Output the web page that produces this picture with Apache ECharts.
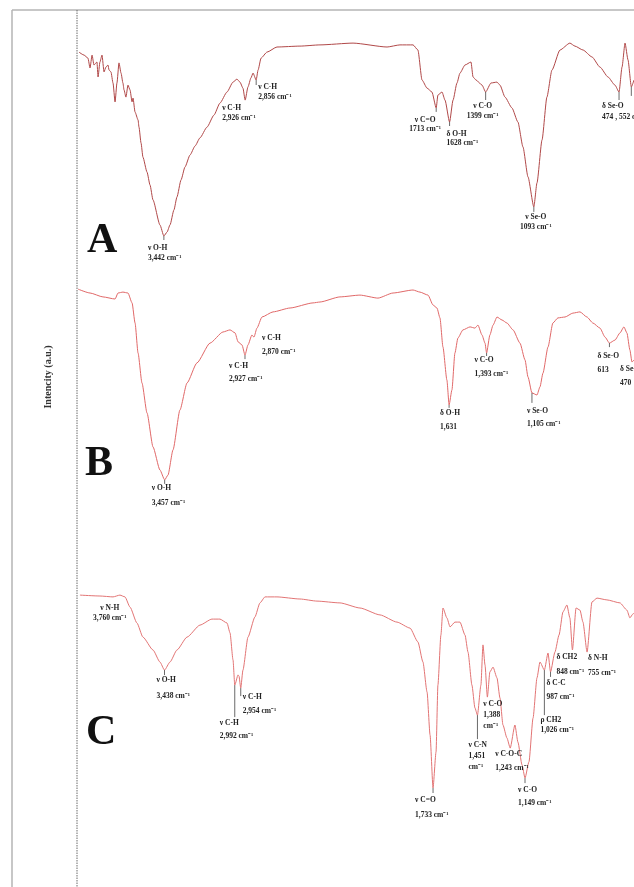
<!DOCTYPE html>
<html><head><meta charset="utf-8">
<script src="https://cdn.jsdelivr.net/npm/echarts@6/dist/echarts.min.js"></script>
<style>html,body{margin:0;padding:0;background:#fff}#c{width:634px;height:887px}</style>
</head><body><div id="c"></div>
<script>
// ---- Data (wavenumber in cm-1, intensity in arbitrary units) ----
const wavenumbersA = [3981,3949,3924,3911,3898,3886,3867,3860,3848,3835,3822,3810,3797,3790,3778,3765,3752,3740,3727,3714,3702,3695,3683,3670,3657,3644,3638,3625,3606,3600,3587,3575,3549,3530,3511,3467,3442,3422,3403,3378,3359,3333,3308,3276,3244,3213,3168,3124,3086,3041,3003,2978,2959,2940,2926,2908,2889,2876,2856,2844,2825,2787,2724,2578,2451,2241,2025,1943,1860,1829,1803,1771,1740,1713,1702,1676,1657,1628,1606,1581,1562,1530,1492,1479,1460,1422,1399,1365,1327,1308,1276,1232,1194,1162,1130,1093,1073,1041,1010,978,927,864,832,781,724,673,622,578,552,533,514,495,474,457];
const intensityA = [93.3,92.3,91.3,88.0,92.3,89.0,90.0,85.0,90.0,92.3,86.7,88.3,89.0,87.3,86.7,83.0,76.7,83.0,89.7,86.3,83.0,80.7,78.3,82.3,80.7,76.7,78.0,73.3,70.7,68.3,63.0,58.3,53.3,49.0,44.0,35.7,32.0,33.3,35.7,40.7,45.0,50.7,55.0,59.0,62.0,64.7,68.3,72.3,76.3,80.0,83.3,84.3,83.3,81.3,77.3,81.7,84.7,86.3,84.0,87.3,91.3,93.3,95.0,95.3,95.7,96.3,95.0,95.7,95.7,94.0,84.0,81.3,80.0,74.7,79.0,80.0,77.3,70.0,77.3,83.0,86.3,89.0,90.0,85.0,84.0,82.3,80.0,83.0,83.3,82.3,78.3,74.7,70.0,61.7,51.7,41.7,49.7,64.0,78.3,87.3,94.0,96.3,95.3,94.0,91.7,88.3,85.0,82.3,80.0,88.3,96.3,90.7,81.7,84.0];

const wavenumbersB = [3987,3911,3829,3752,3733,3702,3670,3644,3625,3606,3581,3549,3511,3467,3437,3416,3384,3340,3295,3232,3149,3067,3022,2990,2971,2946,2927,2908,2883,2870,2851,2819,2749,2641,2495,2451,2324,2197,2083,1987,1860,1816,1765,1733,1708,1689,1670,1645,1631,1613,1594,1575,1543,1498,1467,1448,1422,1403,1393,1372,1352,1327,1295,1264,1225,1181,1149,1130,1105,1073,1054,1035,1003,972,940,895,845,800,756,718,673,641,613,578,546,521,502,483,470,457];
const intensityB = [99.3,98.0,96.7,96.0,98.0,98.3,98.0,94.7,88.0,78.0,68.0,58.0,46.7,39.0,35.7,37.3,45.7,59.0,68.0,74.7,81.3,85.0,85.7,84.7,81.7,80.7,77.3,80.7,84.0,83.3,86.3,90.0,91.7,93.0,94.7,95.0,96.7,97.3,96.3,98.0,99.0,98.3,97.3,94.0,93.0,89.7,80.0,69.0,60.7,65.7,78.0,83.0,85.7,86.7,86.3,87.3,84.0,81.3,78.0,84.0,87.3,90.0,89.0,88.0,85.7,81.3,75.7,70.0,64.7,64.0,66.7,71.3,80.0,88.0,89.7,90.0,91.3,91.7,90.0,88.0,86.3,83.3,81.3,82.3,84.7,86.7,84.7,79.0,75.0,75.7];

const wavenumbersC = [3975,3848,3765,3721,3689,3657,3613,3575,3511,3467,3438,3403,3359,3295,3213,3137,3086,3041,3022,3003,2992,2971,2965,2954,2940,2908,2864,2832,2800,2724,2578,2470,2324,2197,2070,1962,1879,1829,1797,1771,1752,1733,1714,1702,1683,1670,1645,1625,1594,1562,1530,1511,1486,1467,1451,1429,1416,1403,1388,1372,1352,1327,1308,1289,1264,1243,1213,1194,1168,1149,1124,1098,1073,1054,1026,1003,987,959,933,908,883,864,848,825,800,781,755,724,692,629,546,502,483,464,457];
const intensityC = [97.3,97.0,96.7,97.3,96.7,93.3,88.0,83.3,79.0,75.0,72.3,75.0,79.0,83.3,87.3,89.3,89.3,88.0,84.7,75.7,67.3,70.7,70.3,66.3,72.3,83.3,90.0,94.7,96.7,96.7,96.0,95.3,94.7,93.0,90.7,88.3,86.3,81.7,75.0,65.0,50.7,33.0,45.0,67.3,84.0,93.0,89.7,86.7,88.3,88.3,84.0,78.3,67.3,59.7,57.3,67.3,80.7,74.0,63.3,71.7,73.3,69.7,63.0,54.0,49.7,46.3,54.0,48.3,40.7,36.3,41.7,56.3,69.7,75.0,72.3,78.0,71.7,78.3,84.0,91.7,94.0,89.7,79.0,93.0,92.3,88.3,78.3,95.0,96.3,95.7,94.7,92.3,89.7,91.0,91.3];

// vertical stacking offsets of the three spectra
const offsetA = 185, offsetB = 100, offsetC = 0;

// peak annotations: [wavenumber, line texts...]
const peaksA = [
  [3442, ['ν O-H', '3,442 cm⁻¹']],
  [2926, ['ν C-H', '2,926 cm⁻¹']],
  [2856, ['ν C-H', '2,856 cm⁻¹']],
  [1713, ['ν C=O', '1713 cm⁻¹']],
  [1628, ['δ O-H', '1628 cm⁻¹']],
  [1399, ['ν C-O', '1399 cm⁻¹']],
  [1093, ['ν Se-O', '1093 cm⁻¹']],
  [552,  ['δ Se-O', '474 , 552 cm⁻¹']],
  [474,  []]
];
const peaksB = [
  [3437, ['ν O-H', '3,457 cm⁻¹']],
  [2927, ['ν C-H', '2,927 cm⁻¹']],
  [2870, ['ν C-H', '2,870 cm⁻¹']],
  [1631, ['δ O-H', '1,631']],
  [1393, ['ν C-O', '1,393 cm⁻¹']],
  [1105, ['ν Se-O', '1,105 cm⁻¹']],
  [613,  ['δ Se-O', '613']],
  [470,  ['δ Se-O', '470']]
];
const peaksC = [
  [3760, ['ν N-H', '3,760 cm⁻¹']],
  [3438, ['ν O-H', '3,438 cm⁻¹']],
  [2992, ['ν C-H', '2,992 cm⁻¹']],
  [2954, ['ν C-H', '2,954 cm⁻¹']],
  [1733, ['ν C=O', '1,733 cm⁻¹']],
  [1451, ['ν C-N', '1,451', 'cm⁻¹']],
  [1388, ['ν C-O', '1,388', 'cm⁻¹']],
  [1243, ['ν C-O-C', '1,243 cm⁻¹']],
  [1149, ['ν C-O', '1,149 cm⁻¹']],
  [1026, ['ρ CH2', '1,026 cm⁻¹']],
  [987,  ['δ C-C', '987 cm⁻¹']],
  [848,  ['δ CH2', '848 cm⁻¹']],
  [755,  ['δ N-H', '755 cm⁻¹']]
];
const panelLetters = ['A', 'B', 'C'];

// ---- label placement (style, px relative to the peak): [dx, dy, lineGap, tickLen, align]
const placeA = [[-16,12,10,4,'left'],[-23,8,10,0,'left'],[2,7,10,5,'left'],[-11,12,9,4,'center'],
  [-3,12,9,4,'left'],[-3,14,10,8,'center'],[2,10,10,5,'center'],[-17,14,11,8,'left'],[0,0,0,9,'left']];
const placeB = [[-13,8,15,4,'left'],[-16,11,13,4,'left'],[8,1,14,0,'left'],[-9,8,14,3,'left'],
  [-12,7,14,3,'left'],[-5,18,13,10,'left'],[-12,13,14,4,'left'],[-12,7,14,0,'left']];
const placeC = [[-4,11,10,0,'center'],[-8,10,16,5,'left'],[-15,38,13,32,'left'],[2,9,14,8,'left'],
  [-18,12,15,5,'left'],[-9,30,11,24,'left'],[-4,7,11,0,'left'],[-15,6,14,0,'left'],
  [-7,12,13,5,'left'],[-4,50,10,45,'left'],[-4,11,14,5,'left'],[-16,7,15,0,'left'],[1,6,15,0,'left']];
const letterPos = [[87,241],[85,464],[86,733]];

const el = document.getElementById('c');
const chart = echarts.init(el, null, {renderer: 'canvas'});

function mk(ws, vs, off) { return ws.map((w, i) => [w, vs[i] + off]); }
function valueAt(ws, vs, w) {
  for (let i = 0; i < ws.length - 1; i++) {
    if (ws[i] >= w && w >= ws[i + 1]) {
      const t = (ws[i] - w) / (ws[i] - ws[i + 1] || 1);
      return vs[i] + t * (vs[i + 1] - vs[i]);
    }
  }
  return vs[vs.length - 1];
}

const serif = "'Liberation Serif','Times New Roman',serif";
chart.setOption({
  animation: false,
  backgroundColor: '#fff',
  grid: {left: 76, right: 0, top: 2, bottom: 0, containLabel: false},
  xAxis: {type: 'value', inverse: true, min: 457, max: 4000, show: false},
  yAxis: {type: 'value', min: 0, max: 295, show: false},
  series: [
    {type: 'line', data: mk(wavenumbersA, intensityA, offsetA), showSymbol: false, smooth: 0.2, smoothMonotone: 'x',
     lineStyle: {color: '#b04848', width: 1}},
    {type: 'line', data: mk(wavenumbersB, intensityB, offsetB), showSymbol: false, smooth: 0.2, smoothMonotone: 'x',
     lineStyle: {color: '#e06868', width: 1}},
    {type: 'line', data: mk(wavenumbersC, intensityC, offsetC), showSymbol: false, smooth: 0.2, smoothMonotone: 'x',
     lineStyle: {color: '#e27474', width: 1}}
  ]
});

const g = [];
// frame and dotted axis line
g.push({type: 'line', shape: {x1: 12, y1: 10, x2: 634, y2: 10}, style: {stroke: '#b5b5b5', lineWidth: 1.5}, z: 10});
g.push({type: 'line', shape: {x1: 12, y1: 10, x2: 12, y2: 887}, style: {stroke: '#b5b5b5', lineWidth: 1.5}, z: 10});
g.push({type: 'line', shape: {x1: 77, y1: 10, x2: 77, y2: 887}, style: {stroke: '#6a6a6a', lineWidth: 1, lineDash: [1.5, 1]}, z: 10});
// y-axis title
g.push({type: 'text', x: 48, y: 377, rotation: Math.PI / 2,
  style: {text: 'Intencity (a.u.)', font: "bold 10px " + serif, fill: '#333', align: 'center', verticalAlign: 'middle'}, z: 10});
// panel letters
panelLetters.forEach((L, i) => {
  g.push({type: 'text', x: letterPos[i][0], y: letterPos[i][1],
    style: {text: L, font: "bold 42px " + serif, fill: '#111', align: 'left', verticalAlign: 'middle'}, z: 10});
});
// peak labels
function addPeaks(peaks, place, ws, vs, off) {
  peaks.forEach((p, i) => {
    const w = p[0];
    const v = valueAt(ws, vs, w) + off;
    const pt = chart.convertToPixel({xAxisIndex: 0, yAxisIndex: 0}, [w, v]);
    const [dx, dy, gap, tick, align] = place[i];
    if (tick > 0) {
      g.push({type: 'line', shape: {x1: pt[0], y1: pt[1], x2: pt[0], y2: pt[1] + tick},
        style: {stroke: '#444', lineWidth: 0.8}, z: 11});
    }
    p[1].forEach((t, k) => {
      g.push({type: 'text', x: pt[0] + dx, y: pt[1] + dy + k * gap,
        style: {text: t, font: "bold 7.5px " + serif, fill: '#222', align: align, verticalAlign: 'middle'}, z: 12});
    });
  });
}
addPeaks(peaksA, placeA, wavenumbersA, intensityA, offsetA);
addPeaks(peaksB, placeB, wavenumbersB, intensityB, offsetB);
addPeaks(peaksC, placeC, wavenumbersC, intensityC, offsetC);
chart.setOption({graphic: {elements: g}});
</script>
</body></html>
